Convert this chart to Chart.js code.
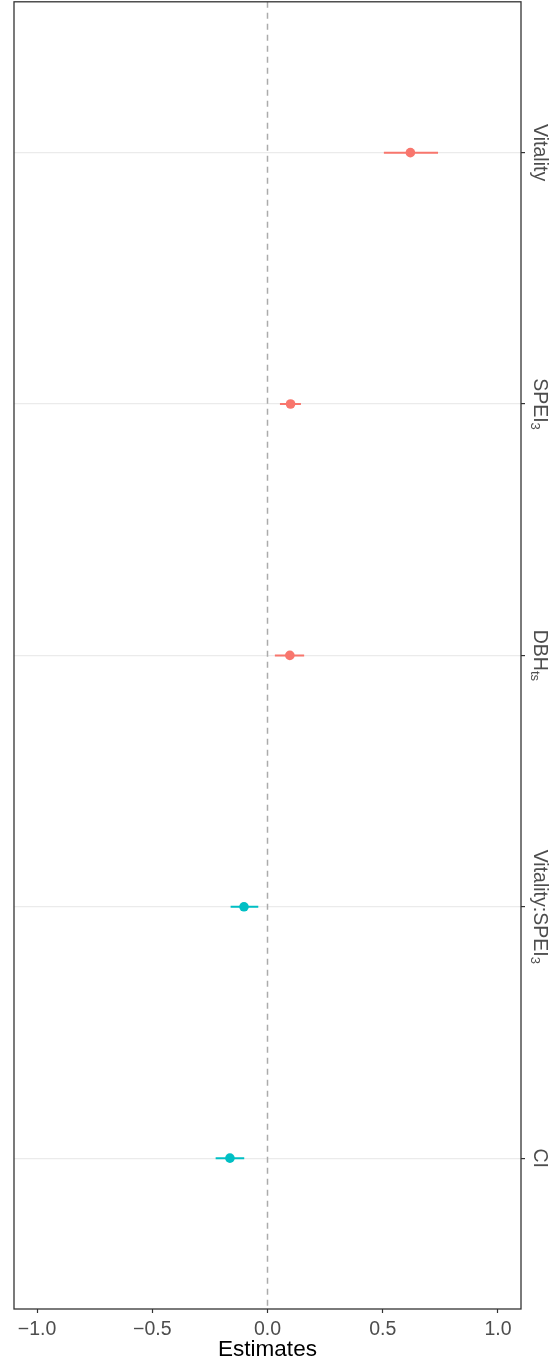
<!DOCTYPE html>
<html lang="en">
<head>
<meta charset="utf-8" />
<title>Estimates</title>
<script src="https://cdn.jsdelivr.net/npm/chart.js"></script>
<style>
  html, body { margin: 0; padding: 0; background: #fff; overflow: hidden; }
  canvas { display: block; margin-top: -3px; }
</style>
</head>
<body>
<canvas id="forestChart" width="558" height="1362"></canvas>
<script>
// categories top to bottom, "_" marks the subscript part
const categories = ['Vitality', 'SPEI_3', 'DBH_ts', 'Vitality:SPEI_3', 'CI'];
const estimates = [0.62, 0.10, 0.097, -0.102, -0.163];
const lower = [0.505, 0.054, 0.032, -0.16, -0.225];
const upper = [0.74, 0.145, 0.159, -0.04, -0.101];
const xTicks = [-1.0, -0.5, 0.0, 0.5, 1.0];

const posColor = '#F8766D';
const negColor = '#00BFC4';
const fontFamily = '"Liberation Sans", Arial, Helvetica, sans-serif';

const colorFor = v => (v > 0 ? posColor : negColor);

const datasets = [];

// dashed reference line at zero
datasets.push({
    data: [{ x: 0, y: 0.4 }, { x: 0, y: 5.6 }],
    showLine: true,
    borderColor: '#ABABAB',
    borderWidth: 1.5,
    borderDash: [6, 5],
    pointRadius: 0,
    order: 3
});

// error bars
categories.forEach((c, i) => {
    datasets.push({
        data: [{ x: lower[i], y: i + 1 }, { x: upper[i], y: i + 1 }],
        showLine: true,
        borderColor: colorFor(estimates[i]),
        borderWidth: 2,
        pointRadius: 0,
        order: 2
    });
});

// point estimates
datasets.push({
    data: estimates.map((v, i) => ({ x: v, y: i + 1 })),
    pointRadius: 4.8,
    pointBackgroundColor: estimates.map(colorFor),
    pointBorderWidth: 0,
    order: 1
});

const panelBorder = {
    id: 'panelBorder',
    afterDatasetsDraw(chart) {
        const { ctx, chartArea: a } = chart;
        ctx.save();
        ctx.strokeStyle = '#333333';
        ctx.lineWidth = 1.3;
        ctx.strokeRect(a.left, a.top, a.right - a.left, a.bottom - a.top);
        ctx.restore();
    }
};

// rotated category labels with subscripts on the right side
const sideLabels = {
    id: 'sideLabels',
    afterDraw(chart) {
        const { ctx } = chart;
        const y = chart.scales.y;
        const mainFont = '19.5px ' + fontFamily;
        const subFont = '13px ' + fontFamily;
        categories.forEach((c, i) => {
            const parts = c.split('_');
            const main = parts[0];
            const sub = parts[1] || '';
            ctx.save();
            ctx.font = mainFont;
            const w1 = ctx.measureText(main).width;
            ctx.font = subFont;
            const w2 = sub ? ctx.measureText(sub).width : 0;
            const total = w1 + w2;
            ctx.translate(chart.chartArea.right + 13, y.getPixelForValue(i + 1));
            ctx.rotate(Math.PI / 2);
            ctx.fillStyle = '#4D4D4D';
            ctx.textAlign = 'left';
            ctx.textBaseline = 'alphabetic';
            ctx.font = mainFont;
            ctx.fillText(main, -total / 2, 0);
            if (sub) {
                ctx.font = subFont;
                ctx.fillText(sub, -total / 2 + w1, 3);
            }
            ctx.restore();
        });
    }
};

const ctx = document.getElementById('forestChart').getContext('2d');
new Chart(ctx, {
    type: 'scatter',
    data: { datasets: datasets },
    options: {
        responsive: false,
        animation: false,
        layout: { padding: { left: 14, top: 1, right: 0, bottom: 0 } },
        plugins: {
            legend: { display: false },
            tooltip: { enabled: false }
        },
        scales: {
            x: {
                type: 'linear',
                position: 'bottom',
                min: -1.1,
                max: 1.1,
                afterBuildTicks: s => { s.ticks = xTicks.map(v => ({ value: v })); },
                afterFit: s => { s.height = 50; },
                border: { display: false },
                grid: {
                    drawOnChartArea: false,
                    drawTicks: true,
                    tickLength: 4,
                    tickColor: '#333333',
                    tickWidth: 1.2
                },
                ticks: {
                    color: '#4D4D4D',
                    padding: 5,
                    font: { family: fontFamily, size: 19.5 },
                    callback: v => v.toFixed(1).replace('-', '\u2212')
                },
                title: {
                    display: true,
                    text: 'Estimates',
                    color: '#000000',
                    padding: { top: 0, bottom: -2 },
                    font: { family: fontFamily, size: 22.5, lineHeight: 1 }
                }
            },
            y: {
                type: 'linear',
                position: 'right',
                reverse: true,
                min: 0.4,
                max: 5.6,
                afterBuildTicks: s => { s.ticks = categories.map((c, i) => ({ value: i + 1 })); },
                afterFit: s => { s.width = 37; },
                border: { display: false },
                grid: {
                    color: '#EBEBEB',
                    lineWidth: 1.2,
                    drawTicks: true,
                    tickLength: 4,
                    tickColor: '#333333',
                    tickWidth: 1.2
                },
                ticks: { display: false }
            }
        }
    },
    plugins: [panelBorder, sideLabels]
});
</script>
</body>
</html>
